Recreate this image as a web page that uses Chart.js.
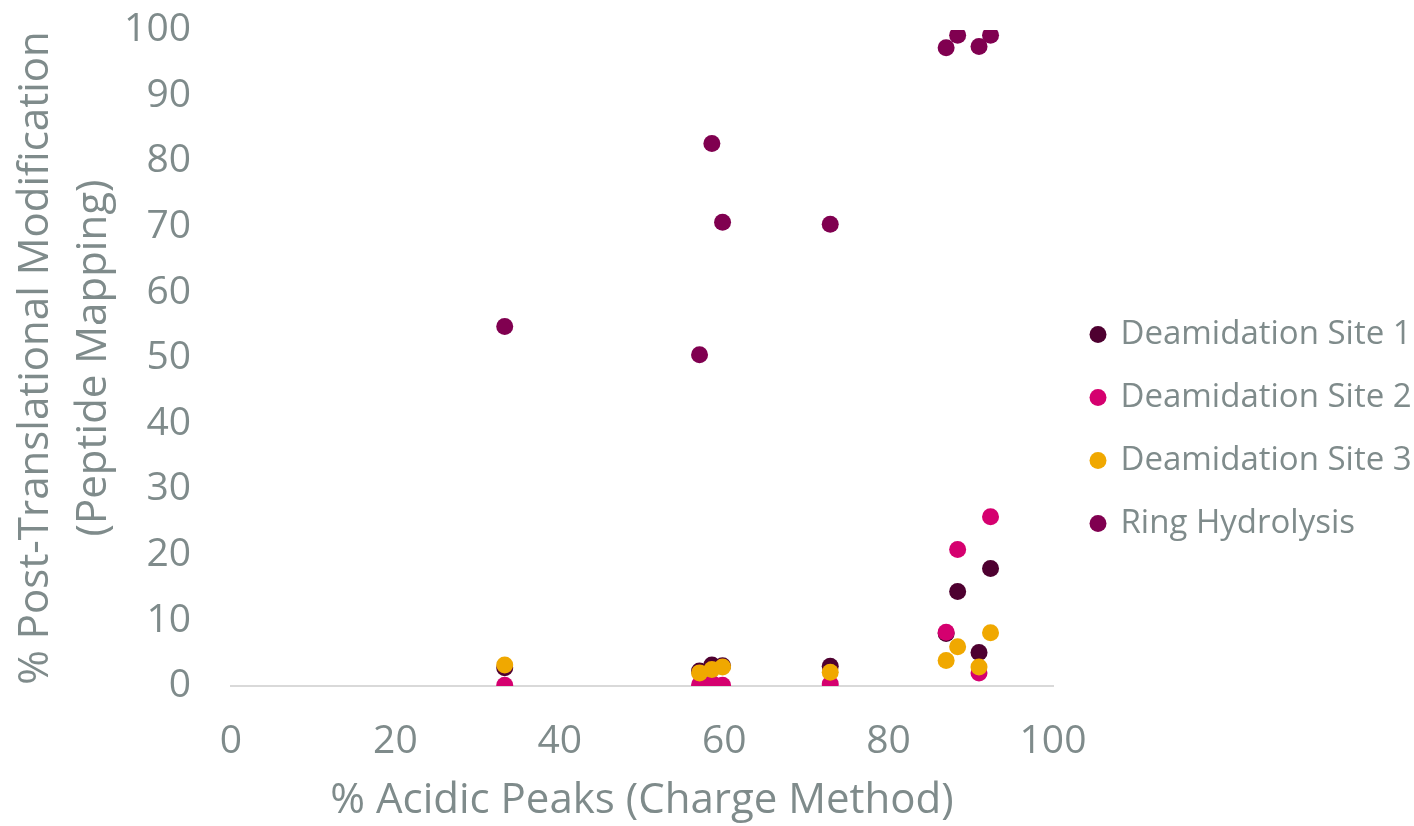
<!DOCTYPE html>
<html>
<head>
<meta charset="utf-8">
<script src="https://cdn.jsdelivr.net/npm/chart.js@4"></script>
<style>
  html, body { margin: 0; padding: 0; background: #fff; }
  canvas { display: block; }
</style>
</head>
<body>
<canvas id="chart" width="1414" height="826"></canvas>
<script>
const acidicPeaks = [33.3, 57.0, 58.5, 59.8, 72.9, 87.0, 88.4, 91.0, 92.4]
const site1 = [2.8, 2.3, 3.2, 3.1, 3.0, 8.0, 14.4, 5.1, 17.9]
const site2 = [0.1, 0.2, 0.4, 0.1, 0.3, 8.2, 20.8, 2.0, 25.8]
const site3 = [3.2, 2.0, 2.5, 2.9, 2.1, 3.9, 6.0, 2.9, 8.1]
const ringHydrolysis = [54.8, 50.5, 82.7, 70.7, 70.4, 97.3, 99.2, 97.5, 99.2]

const seriesNames = ['Deamidation Site 1', 'Deamidation Site 2', 'Deamidation Site 3', 'Ring Hydrolysis']
const seriesValues = [site1, site2, site3, ringHydrolysis]
const seriesColors = ['#4E0030', '#D5006F', '#F0A800', '#800050']

const xTitle = '% Acidic Peaks (Charge Method)'
const yTitle = ['% Post-Translational Modification', '(Peptide Mapping)']

const grey = '#7F8B8B'
const font = 'Open Sans'

const datasets = seriesNames.map((name, i) => ({
  label: name,
  data: acidicPeaks.map((x, j) => ({x, y: seriesValues[i][j]})),
  backgroundColor: seriesColors[i],
  borderWidth: 0,
  pointRadius: 8.5,
  pointHoverRadius: 8.5,
  order: seriesNames.length - i,
}))

// nudge the legend block to where the original sits
const legendShift = {
  id: 'legendShift',
  afterLayout (chart) {
    chart.legend.top += 2
    chart.legend.left += 9
    chart.legend.right += 9
  },
}

const ctx = document.getElementById('chart').getContext('2d')
// eslint-disable-next-line no-unused-vars
const chart = new Chart(ctx, {
  type: 'scatter',
  data: {datasets},
  plugins: [legendShift],
  options: {
    responsive: false,
    animation: false,
    layout: {padding: {top: 30, right: 10, bottom: 0, left: 0}},
    plugins: {
      tooltip: {enabled: false},
      legend: {
        position: 'right',
        labels: {
          sort: (a, b) => a.datasetIndex - b.datasetIndex,
          usePointStyle: true,
          pointStyle: 'circle',
          boxWidth: 12,
          boxHeight: 12,
          padding: 30,
          color: grey,
          font: {family: font, size: 33},
        },
      },
    },
    scales: {
      x: {
        min: 0,
        max: 100,
        ticks: {stepSize: 20, color: grey, padding: 32, font: {family: font, size: 39}},
        grid: {display: false, drawTicks: false},
        border: {display: true, color: '#D9D9D9', width: 2},
        title: {display: true, text: xTitle, color: grey, font: {family: font, size: 42}, padding: {top: 0, bottom: 0}},
        afterFit: (scale) => { scale.height = 140 },
      },
      y: {
        min: 0,
        max: 100,
        ticks: {stepSize: 10, color: grey, padding: 40, font: {family: font, size: 39}},
        grid: {display: false, drawTicks: false},
        border: {display: false},
        title: {display: true, text: yTitle, color: grey, font: {family: font, size: 42, lineHeight: 1.38}, padding: {top: 7, bottom: 0}},
        afterFit: (scale) => {
          scale.width = 231
          scale.paddingTop = 10
          scale.paddingBottom = 10
        },
      },
    },
  },
})
</script>
</body>
</html>
